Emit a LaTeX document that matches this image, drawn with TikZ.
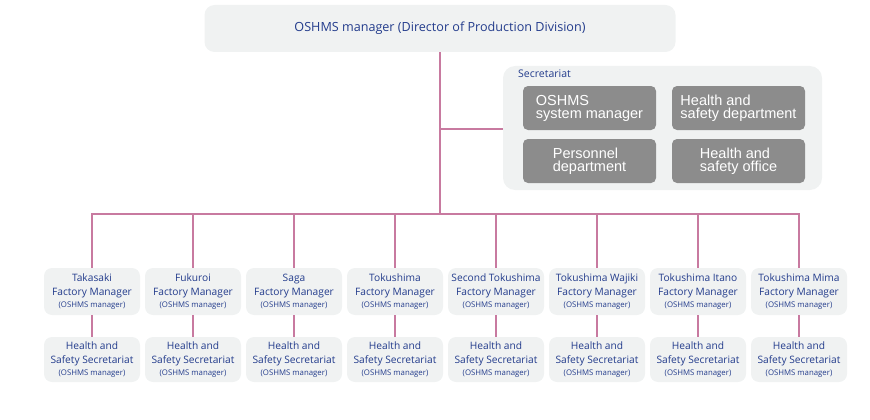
\documentclass[tikz,border=0pt]{standalone}
\usepackage{fontspec}
\setmainfont{Open Sans}
\newfontfamily\whitefont{Liberation Sans}
\definecolor{navytext}{RGB}{35,60,140}
\definecolor{linkpink}{RGB}{200,122,160}
\definecolor{boxgray}{RGB}{240,242,242}
\definecolor{darkgray}{RGB}{140,140,140}
\begin{document}
\begin{tikzpicture}[
  x=1pt, y=-1pt,
  every node/.style={inner sep=0pt, align=center, text=navytext},
  top node/.style={fill=boxgray, rounded corners=10pt, minimum width=471pt, minimum height=47pt, font=\fontsize{12.6}{14}\selectfont},
  panel node/.style={fill=boxgray, rounded corners=12pt, minimum width=319pt, minimum height=124pt},
  sec node/.style={fill=darkgray, rounded corners=5pt, minimum width=133pt, minimum height=44pt, text=white, align=left, font=\whitefont\fontsize{14.5}{13}\selectfont},
  factory node/.style={fill=boxgray, rounded corners=8pt, minimum width=96pt, minimum height=47pt, font=\fontsize{10.2}{14}\selectfont},
  secretariat node/.style={fill=boxgray, rounded corners=8pt, minimum width=96pt, minimum height=45pt, font=\fontsize{10.2}{14}\selectfont},
  link edge/.style={draw, linkpink, line width=1.6pt}
]
\useasboundingbox (0,0) rectangle (870,420);
% Define the nodes
\node[top node] (M) at (440,28.5) {OSHMS manager (Director of Production Division)};
\node[panel node] (S) at (662.5,128) {};
\node[anchor=west, font=\fontsize{10.5}{12}\selectfont] (Slabel) at (518,74) {Secretariat};
\node[sec node] (S1) at (589.5,108) {OSHMS\\system manager};
\node[sec node] (S2) at (738.5,108) {Health and\\safety department};
\node[sec node] (S3) at (589.5,161) {Personnel\\department};
\node[sec node] (S4) at (738.5,161) {Health and\\safety office};
\foreach \name [count=\k] in {Takasaki,Fukuroi,Saga,Tokushima,Second Tokushima,Tokushima Wajiki,Tokushima Itano,Tokushima Mima} {
  \node[factory node] (F\k) at ({92+101*(\k-1)},291.5) {\name\\Factory Manager\\[-2pt]{\fontsize{7.8}{9}\selectfont(OSHMS manager)}};
  \node[secretariat node] (H\k) at ({92+101*(\k-1)},359.5) {Health and\\Safety Secretariat\\[-2pt]{\fontsize{7.8}{9}\selectfont(OSHMS manager)}};
}
\coordinate (hub) at (440,214);
\coordinate (split) at (440,129);
% Define the edges
\path[link edge] (M) -- (hub);
\path[link edge] (split) -- (split -| S.west);
\foreach \k in {1,...,8} {
  \path[link edge] (hub) -| (F\k.north);
  \path[link edge] (F\k) -- (H\k);
}
\end{tikzpicture}
\end{document}
